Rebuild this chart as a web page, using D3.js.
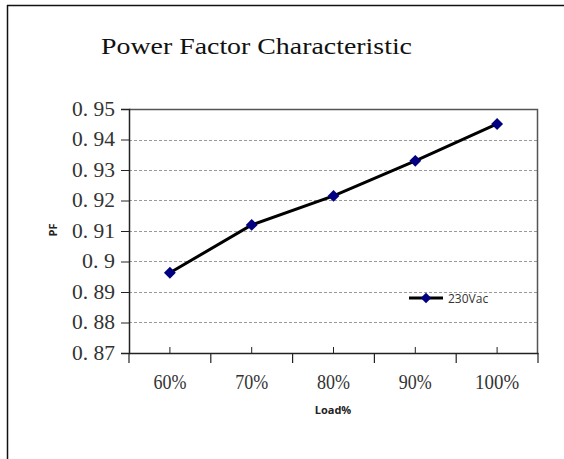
<!DOCTYPE html>
<html><head><meta charset="utf-8">
<script src="https://cdn.jsdelivr.net/npm/d3@7"></script>
<style>body{margin:0;background:#fff}svg{display:block}</style>
</head><body>
<svg id="c" width="564" height="459"></svg>
<script>
const categories = ["60%","70%","80%","90%","100%"];
const pfValues = [0.8963, 0.9120, 0.9215, 0.9330, 0.9451];
const yTicks = [0.87,0.88,0.89,0.90,0.91,0.92,0.93,0.94,0.95];
const yTickLabels = ["0. 87","0. 88","0. 89","0. 9","0. 91","0. 92","0. 93","0. 94","0. 95"];
const seriesName = "230Vac";
const title = "Power Factor Characteristic";

const svg = d3.select("#c");
const L=129, R=538, T=109, B=353;
const x = d3.scaleBand().domain(categories).range([L,R]);
const y = d3.scaleLinear().domain([0.87,0.95]).range([B,T]);

// outer frame
svg.append("line").attr("x1",7).attr("x2",564).attr("y1",5.5).attr("y2",5.5).attr("stroke","#111").attr("stroke-width",1.5);
svg.append("line").attr("x1",7.5).attr("x2",7.5).attr("y1",5).attr("y2",459).attr("stroke","#111").attr("stroke-width",1.5);

// title
svg.append("text").attr("x",101).attr("y",53.5).text(title)
  .attr("font-family","Liberation Serif, serif").attr("font-size",23)
  .attr("textLength",311).attr("lengthAdjust","spacingAndGlyphs").attr("fill","#111");

// gridlines
svg.append("g").selectAll("line").data(yTicks.slice(1,-1)).join("line")
  .attr("x1",L).attr("x2",R).attr("y1",d=>Math.round(y(d))+0.5).attr("y2",d=>Math.round(y(d))+0.5)
  .attr("stroke","#999").attr("stroke-dasharray","3,2").attr("stroke-width",1);

// plot frame top/right
svg.append("path").attr("d",`M${L},${T+0.5}H${R-0.5}V${B}`).attr("fill","none").attr("stroke","#555").attr("stroke-width",1.5);

// y axis
const yAxis = d3.axisLeft(y).tickValues(yTicks).tickFormat((d,i)=>yTickLabels[i]).tickSize(8).tickPadding(6);
const gy = svg.append("g").attr("transform",`translate(${L},0)`).call(yAxis);
gy.select(".domain").attr("stroke","#222").attr("stroke-width",1.5);
gy.selectAll(".tick line").attr("stroke","#222");
gy.selectAll("text").attr("font-family","Liberation Serif, serif").attr("font-size",20).attr("fill","#333")
  .attr("textLength",43).attr("lengthAdjust","spacingAndGlyphs");
gy.selectAll(".tick").filter((d,i)=>yTickLabels[i].length===4).select("text").attr("textLength",33);

// x axis: category boundary ticks
const xAxis = d3.axisBottom(x).tickSize(0).tickPadding(22);
const gx = svg.append("g").attr("transform",`translate(0,${B})`).call(xAxis);
gx.select(".domain").attr("stroke","#222").attr("stroke-width",1.5);
gx.selectAll("text").attr("font-family","Liberation Serif, serif").attr("font-size",20).attr("fill","#333")
  .attr("textLength",d=>d.length===4?44:33).attr("lengthAdjust","spacingAndGlyphs");
const bounds = categories.map(c=>x(c)).concat([R]);
svg.append("g").selectAll("line").data(bounds).join("line")
  .attr("x1",d=>d).attr("x2",d=>d).attr("y1",B).attr("y2",B+10).attr("stroke","#222").attr("stroke-width",1.2);
svg.append("g").selectAll("line").data(categories).join("line")
  .attr("x1",d=>x(d)+x.bandwidth()/2).attr("x2",d=>x(d)+x.bandwidth()/2).attr("y1",B).attr("y2",B-6).attr("stroke","#222").attr("stroke-width",1);

// axis titles
svg.append("text").attr("x",333).attr("y",414).attr("text-anchor","middle").text("Load%")
  .attr("font-family","Open Sans, sans-serif").attr("font-weight","bold").attr("font-size",11).attr("fill","#222");
svg.append("text").attr("transform","translate(57,230) rotate(-90)").attr("text-anchor","middle").text("PF")
  .attr("font-family","Open Sans, sans-serif").attr("font-weight","bold").attr("font-size",11).attr("fill","#222");

// line
const data = categories.map((c,i)=>({c, v:pfValues[i]}));
svg.append("path").datum(data)
  .attr("d", d3.line().x(d=>x(d.c)+x.bandwidth()/2).y(d=>y(d.v)))
  .attr("fill","none").attr("stroke","#000").attr("stroke-width",3);
const diamond = d3.symbol().type(d3.symbolDiamond2).size(90);
svg.append("g").selectAll("path").data(data).join("path")
  .attr("d",diamond).attr("transform",d=>`translate(${x(d.c)+x.bandwidth()/2},${y(d.v)})`)
  .attr("fill","#000080");

// legend
svg.append("line").attr("x1",409).attr("x2",443).attr("y1",298).attr("y2",298).attr("stroke","#000").attr("stroke-width",3);
svg.append("path").attr("d",d3.symbol().type(d3.symbolDiamond2).size(70)).attr("transform","translate(426,298)").attr("fill","#000080");
svg.append("text").attr("x",448).attr("y",303).text(seriesName)
  .attr("font-family","Open Sans, sans-serif").attr("font-size",12).attr("fill","#333");
</script>
</body></html>
